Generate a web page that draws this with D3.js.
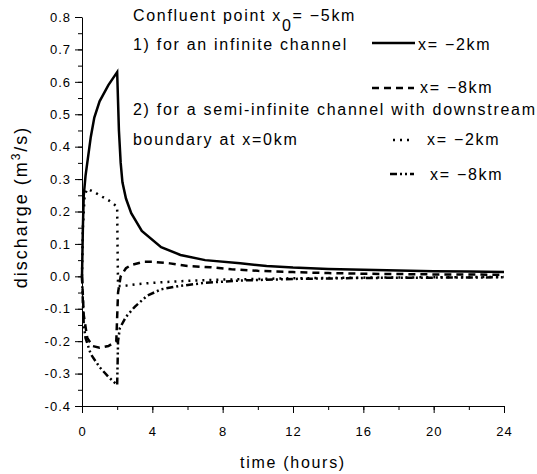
<!DOCTYPE html>
<html>
<head>
<meta charset="utf-8">
<script src="https://cdn.jsdelivr.net/npm/d3@7"></script>
<style>
  body { margin: 0; background: #fff; }
  svg text { font-family: "Liberation Sans", Arial, sans-serif; fill: #000; }
</style>
</head>
<body>
<div id="container"></div>
<script>
// hours / discharge
var infMinus2T = [0, 0.05, 0.1, 0.2, 0.4, 0.5, 0.7, 1.0, 1.5, 2.0, 2.1, 2.2, 2.3, 2.5, 2.8, 3.4, 4.5, 5.6, 7, 9, 10.5, 12, 14, 16, 18, 20, 22, 24];
var infMinus2Q = [0, 0.15, 0.25, 0.31, 0.39, 0.43, 0.49, 0.54, 0.59, 0.63, 0.45, 0.35, 0.29, 0.24, 0.195, 0.14, 0.09, 0.066, 0.05, 0.04, 0.032, 0.027, 0.023, 0.02, 0.018, 0.016, 0.015, 0.013];

var infMinus8T = [0, 0.1, 0.3, 0.6, 1.0, 1.5, 1.95, 2.05, 2.2, 2.5, 2.8, 3.5, 4, 5, 6, 7.3, 8.5, 10, 12, 14, 16, 18, 20, 24];
var infMinus8Q = [0, -0.12, -0.19, -0.215, -0.22, -0.215, -0.2, -0.05, 0.0, 0.025, 0.035, 0.045, 0.045, 0.04, 0.032, 0.028, 0.022, 0.017, 0.013, 0.01, 0.008, 0.007, 0.006, 0.005];

var semiMinus2T = [0, 0.05, 0.15, 0.3, 0.7, 1.0, 1.5, 2.0, 2.02, 2.05, 2.3, 3, 4, 6, 8, 12, 16, 24];
var semiMinus2Q = [0, 0.15, 0.25, 0.27, 0.26, 0.25, 0.235, 0.215, 0.1, -0.03, -0.03, -0.025, -0.02, -0.014, -0.01, -0.006, -0.004, -0.002];

var semiMinus8T = [0, 0.05, 0.1, 0.2, 0.5, 1.0, 1.5, 2.0, 2.05, 2.15, 2.5, 3.0, 3.7, 4.5, 5.5, 7, 9, 12, 16, 24];
var semiMinus8Q = [0, -0.08, -0.15, -0.19, -0.24, -0.28, -0.31, -0.335, -0.2, -0.16, -0.125, -0.094, -0.06, -0.04, -0.03, -0.02, -0.013, -0.008, -0.005, -0.003];

var xTicks = [0, 4, 8, 12, 16, 20, 24];
var yTicks = [-0.4, -0.3, -0.2, -0.1, 0.0, 0.1, 0.2, 0.3, 0.4, 0.5, 0.6, 0.7, 0.8];

var series = [
  {t: infMinus2T, q: infMinus2Q, dash: null},
  {t: infMinus8T, q: infMinus8Q, dash: "7,5"},
  {t: semiMinus2T, q: semiMinus2Q, dash: "2,5"},
  {t: semiMinus8T, q: semiMinus8Q, dash: "7,3,2,3,2,3"}
];

var svg = d3.select("#container").append("svg")
            .attr("width", 537).attr("height", 474);

var x = d3.scaleLinear().domain([0, 24]).range([82, 504]);
var y = d3.scaleLinear().domain([-0.4, 0.8]).range([406, 17]);

// minor ticks first
svg.append("g").attr("transform", "translate(0,406)")
   .call(d3.axisBottom(x).tickValues(d3.range(0, 25, 2)).tickSize(4).tickFormat(""))
   .call(function(g){ g.select(".domain").remove(); });
svg.append("g").attr("transform", "translate(82,0)")
   .call(d3.axisLeft(y).tickValues(d3.range(-0.4, 0.801, 0.05)).tickSize(4).tickFormat(""))
   .call(function(g){ g.select(".domain").remove(); });

var xAxis = svg.append("g").attr("transform", "translate(0,406)")
   .call(d3.axisBottom(x).tickValues(xTicks).tickSize(7).tickSizeOuter(0).tickPadding(14));
var yAxis = svg.append("g").attr("transform", "translate(82,0)")
   .call(d3.axisLeft(y).tickValues(yTicks).tickSize(7).tickSizeOuter(0).tickPadding(4)
           .tickFormat(function(d){ return d3.format(".1f")(d).replace("\u2212", "-"); }));

svg.selectAll(".tick text").attr("font-size", 13).attr("letter-spacing", "1px")
   .attr("font-family", "Liberation Sans, Arial, sans-serif");
svg.selectAll(".domain, .tick line").attr("stroke", "#000");

var line = d3.line()
             .x(function(d){ return x(d[0]); })
             .y(function(d){ return y(d[1]); });

svg.append("g").selectAll("path")
   .data(series)
   .enter().append("path")
   .attr("d", function(s){ return line(s.t.map(function(t, i){ return [t, s.q[i]]; })); })
   .attr("fill", "none")
   .attr("stroke", "#000")
   .attr("stroke-width", 2.5)
   .attr("stroke-dasharray", function(s){ return s.dash; });

// axis titles
svg.append("text")
   .attr("transform", "translate(27,207) rotate(-90)")
   .attr("text-anchor", "middle")
   .attr("font-size", 18).attr("letter-spacing", "2px")
   .html("discharge (m<tspan dy='-7' font-size='12'>3</tspan><tspan dy='7'>/s)</tspan>");

svg.append("text")
   .attr("x", 293).attr("y", 468)
   .attr("text-anchor", "middle")
   .attr("font-size", 16).attr("letter-spacing", "1.7px")
   .text("time (hours)");

// legend
var legend = svg.append("g").attr("font-size", 16).attr("letter-spacing", "1.7px");
legend.append("text").attr("x", 133).attr("y", 21)
      .html("Confluent point x<tspan dy='10'>0</tspan><tspan dy='-10'>= \u22125km</tspan>");
legend.append("text").attr("x", 133).attr("y", 50).text("1)  for an infinite channel");
legend.append("text").attr("x", 133).attr("y", 115).text("2)  for a semi-infinite channel with downstream");
legend.append("text").attr("x", 133).attr("y", 145).text("boundary at x=0km");

var legendRows = [
  {x1: 372, x2: 415, y: 43, tx: 418, ty: 50, label: "x= \u22122km"},
  {x1: 372, x2: 414, y: 88, tx: 420, ty: 93, label: "x= \u22128km"},
  {x1: 393, x2: 414, y: 140, tx: 427, ty: 145, label: "x= \u22122km"},
  {x1: 390, x2: 414, y: 174, tx: 430, ty: 180, label: "x= \u22128km"}
];
legendRows.forEach(function(r, i){
  legend.append("line")
        .attr("x1", r.x1).attr("x2", r.x2).attr("y1", r.y).attr("y2", r.y)
        .attr("stroke", "#000").attr("stroke-width", 2.5)
        .attr("stroke-dasharray", series[i].dash);
  legend.append("text").attr("x", r.tx).attr("y", r.ty).text(r.label);
});
</script>
</body>
</html>
